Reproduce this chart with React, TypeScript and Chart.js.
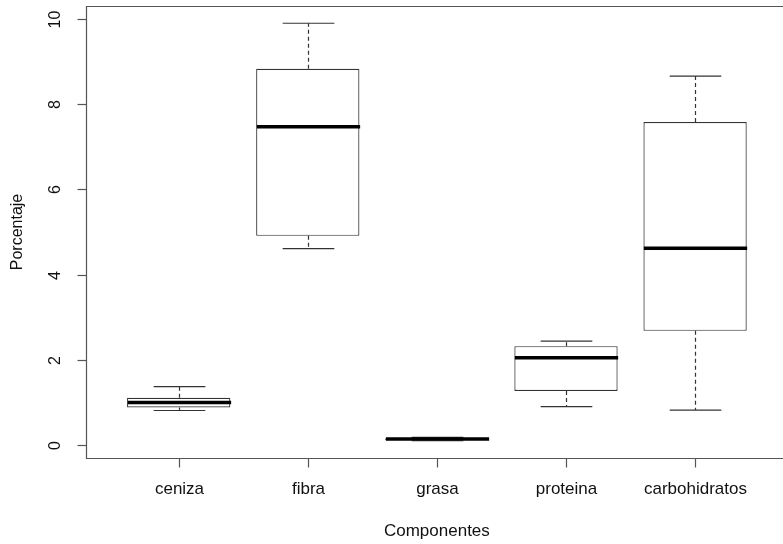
import React, { useEffect, useRef } from "react";
import { Chart, registerables } from "chart.js";

Chart.register(...registerables);

const categories = ["ceniza", "fibra", "grasa", "proteina", "carbohidratos"];
const whiskerLow = [0.81, 4.61, 0.1, 0.9, 0.82];
const quartile1 = [0.88, 4.91, 0.12, 1.27, 2.68];
const medians = [1.0, 7.47, 0.14, 2.05, 4.62];
const quartile3 = [1.11, 8.83, 0.15, 2.32, 7.58];
const whiskerHigh = [1.37, 9.9, 0.18, 2.44, 8.66];
const yTicks = [0, 2, 4, 6, 8, 10];
const xTitle = "Componentes";
const yTitle = "Porcentaje";

const FONT_H = "17px 'Liberation Sans', Arial, sans-serif";
const FONT_V = "16px 'Liberation Sans', Arial, sans-serif";
const LINE = "#333333";

const boxPlugin = {
  id: "rBoxplot",
  afterDatasetsDraw(chart: any) {
    const { ctx, chartArea } = chart;
    const x = chart.scales.x;
    const y = chart.scales.y;
    const boxHalf = x.getPixelForValue(1.4) - x.getPixelForValue(1);
    const capHalf = x.getPixelForValue(1.2) - x.getPixelForValue(1);
    const seg = (x1: number, y1: number, x2: number, y2: number) => {
      ctx.beginPath();
      ctx.moveTo(x1, y1);
      ctx.lineTo(x2, y2);
      ctx.stroke();
    };
    ctx.save();
    categories.forEach((_, i) => {
      const cx = Math.round(x.getPixelForValue(i + 1)) + 0.5;
      const yLo = y.getPixelForValue(whiskerLow[i]);
      const yQ1 = y.getPixelForValue(quartile1[i]);
      const yMed = y.getPixelForValue(medians[i]);
      const yQ3 = y.getPixelForValue(quartile3[i]);
      const yHi = y.getPixelForValue(whiskerHigh[i]);
      ctx.strokeStyle = LINE;
      ctx.lineWidth = 1.2;
      ctx.setLineDash([4, 3]);
      if (yHi < yQ3 - 1) seg(cx, yQ3, cx, yHi);
      if (yLo > yQ1 + 1) seg(cx, yQ1, cx, yLo);
      ctx.setLineDash([]);
      seg(cx - capHalf, yHi, cx + capHalf, yHi);
      seg(cx - capHalf, yLo, cx + capHalf, yLo);
      ctx.strokeStyle = "#000";
      ctx.lineWidth = 3.5;
      seg(cx - boxHalf, yMed, cx + boxHalf, yMed);
    });

    // frame (right side lies just outside the picture)
    const L = chartArea.left + 0.5;
    const T = chartArea.top + 0.5;
    const B = chartArea.bottom + 0.5;
    const R = chartArea.right + 4;
    ctx.strokeStyle = "#555";
    ctx.lineWidth = 1.2;
    ctx.beginPath();
    ctx.moveTo(R, T);
    ctx.lineTo(L, T);
    ctx.lineTo(L, B);
    ctx.lineTo(R, B);
    ctx.stroke();

    ctx.fillStyle = "#111";
    ctx.textAlign = "center";
    ctx.textBaseline = "middle";
    // y ticks
    ctx.font = FONT_V;
    yTicks.forEach((v) => {
      const py = Math.round(y.getPixelForValue(v)) + 0.5;
      seg(L - 9, py, L, py);
      ctx.save();
      ctx.translate(56, py);
      ctx.rotate(-Math.PI / 2);
      ctx.fillText(String(v), 0, 0);
      ctx.restore();
    });
    ctx.save();
    ctx.translate(18, (chartArea.top + chartArea.bottom) / 2);
    ctx.rotate(-Math.PI / 2);
    ctx.fillText(yTitle, 0, 0);
    ctx.restore();
    // x ticks
    ctx.font = FONT_H;
    categories.forEach((c, i) => {
      const px = Math.round(x.getPixelForValue(i + 1)) + 0.5;
      seg(px, B, px, B + 9);
      ctx.fillText(c, px, 489);
    });
    const midX = (x.getPixelForValue(0.3) + x.getPixelForValue(5.7)) / 2;
    ctx.fillText(xTitle, midX, 531);
    ctx.restore();
  },
};

export default function App() {
  const ref = useRef<HTMLCanvasElement>(null);
  useEffect(() => {
    const canvas = ref.current!;
    const chart = new Chart(canvas, {
      type: "bar",
      data: {
        datasets: [
          {
            data: categories.map((_, i) => ({ x: i + 1, y: [quartile1[i], quartile3[i]] })) as any,
            backgroundColor: "#ffffff",
            borderColor: LINE,
            borderWidth: 1.2,
            borderSkipped: false,
            barPercentage: 1,
            categoryPercentage: 0.8,
          },
        ],
      },
      options: {
        responsive: false,
        animation: false,
        devicePixelRatio: 1,
        layout: { padding: { left: 86, top: 6, right: 0, bottom: 86 } },
        scales: {
          x: {
            type: "linear",
            min: 0.282,
            max: 5.681,
            offset: false,
            display: false,
            afterBuildTicks: (axis: any) => {
              axis.ticks = categories.map((_, i) => ({ value: i + 1 }));
            },
          },
          y: {
            type: "linear",
            min: -0.305,
            max: 10.305,
            display: false,
            afterBuildTicks: (axis: any) => {
              axis.ticks = yTicks.map((v) => ({ value: v }));
            },
          },
        },
        plugins: { legend: { display: false }, tooltip: { enabled: false } },
      },
      plugins: [boxPlugin],
    });
    return () => chart.destroy();
  }, []);
  return (
    <div style={{ position: "fixed", left: 0, top: 0, width: 783, height: 544, background: "#fff" }}>
      <canvas ref={ref} width={783} height={544} style={{ display: "block", width: 783, height: 544 }} />
    </div>
  );
}
